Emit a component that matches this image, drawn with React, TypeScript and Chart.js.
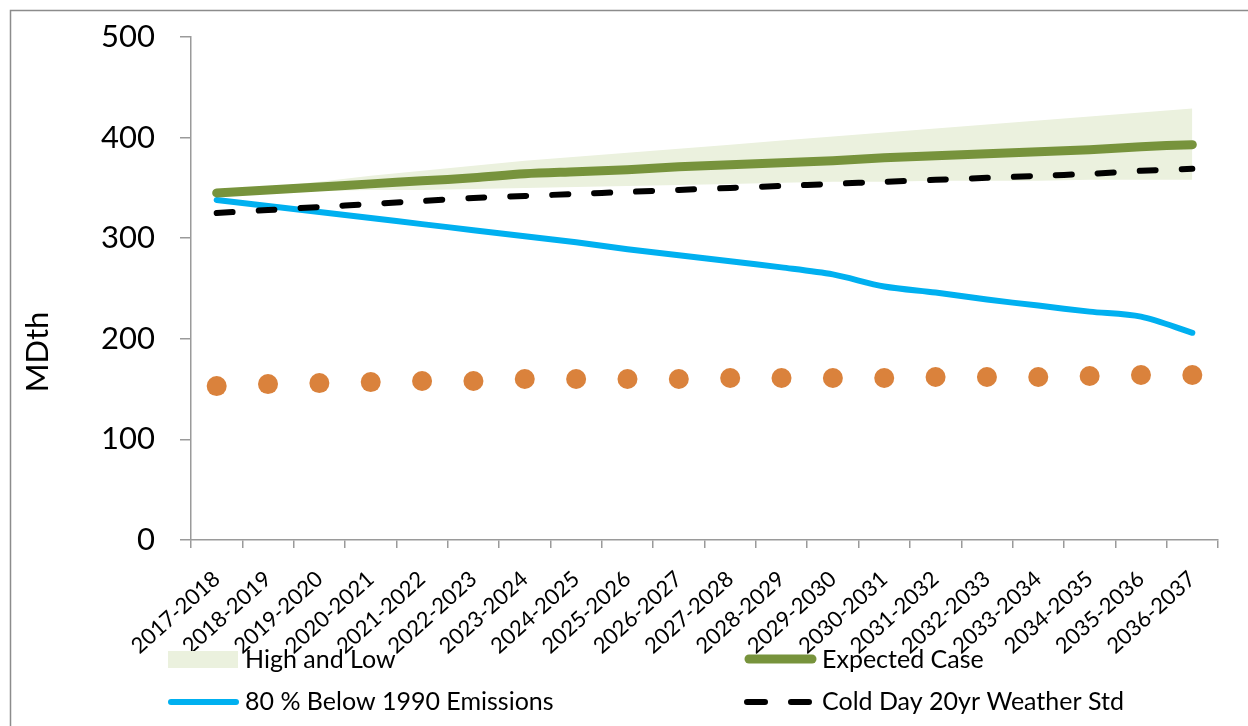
import React, { useEffect, useRef } from "react";
import { Chart, registerables } from "chart.js";

Chart.register(...registerables);

const categories = [
  "2017-2018", "2018-2019", "2019-2020", "2020-2021", "2021-2022",
  "2022-2023", "2023-2024", "2024-2025", "2025-2026", "2026-2027",
  "2027-2028", "2028-2029", "2029-2030", "2030-2031", "2031-2032",
  "2032-2033", "2033-2034", "2034-2035", "2035-2036", "2036-2037",
];

const highBand = [345, 351, 356, 362, 367, 372, 377, 381, 385, 389, 393, 397, 401, 405, 409, 413, 417, 421, 425, 429];
const lowBand = [345, 346, 347, 348, 348, 349, 350, 351, 352, 353, 354, 355, 356, 356, 357, 357, 357, 358, 358, 358];
const expectedCase = [345, 348, 351, 354, 357, 360, 364, 366, 368, 371, 373, 375, 377, 380, 382, 384, 386, 388, 391, 393];
const below1990 = [338, 332, 326, 320, 314, 308, 302, 296, 289, 283, 277, 271, 264, 252, 246, 239, 233, 227, 222, 206];
const coldDay = [325, 328, 331, 334, 337, 340, 342, 344, 346, 348, 350, 352, 354, 356, 358, 360, 362, 364, 367, 369];
const dotSeries = [153, 155, 156, 157, 158, 158, 160, 160, 160, 160, 161, 161, 161, 161, 162, 162, 162, 163, 164, 164];

const yTicks = [0, 100, 200, 300, 400, 500];
const yTitle = "MDth";

const labelHighLow = "High and Low";
const labelExpected = "Expected Case";
const labelBelow = "80 % Below 1990 Emissions";
const labelCold = "Cold Day 20yr Weather Std";

const GREEN = "#77933C";
const BAND = "#EBF1DE";
const BLUE = "#00B0F0";
const ORANGE = "#DA823C";
const AXIS = "#9a9a9a";
const FONT = "Lato, 'Open Sans', sans-serif";

const decorPlugin = {
  id: "decor",
  afterDraw(chart: any) {
    const ctx = chart.ctx as CanvasRenderingContext2D;
    ctx.save();
    // outer border
    ctx.strokeStyle = "#8c8c8c";
    ctx.lineWidth = 1.5;
    ctx.strokeRect(10.5, 10.5, 1400, 900);

    // y-axis title
    ctx.save();
    ctx.translate(38, 352);
    ctx.rotate(-Math.PI / 2);
    ctx.fillStyle = "#000";
    ctx.font = `31px ${FONT}`;
    ctx.textAlign = "center";
    ctx.textBaseline = "middle";
    ctx.fillText(yTitle, 0, 0);
    ctx.restore();

    // legend
    ctx.font = `25px ${FONT}`;
    ctx.fillStyle = "#000";
    ctx.textAlign = "left";
    ctx.textBaseline = "middle";

    // High and Low
    ctx.fillStyle = BAND;
    ctx.fillRect(168, 651, 70, 17);
    ctx.fillStyle = "#000";
    ctx.fillText(labelHighLow, 245, 660);

    // Expected case
    ctx.strokeStyle = GREEN;
    ctx.lineWidth = 9;
    ctx.lineCap = "round";
    ctx.beginPath();
    ctx.moveTo(749, 659);
    ctx.lineTo(812, 659);
    ctx.stroke();
    ctx.fillText(labelExpected, 822, 660);

    // 80 % below
    ctx.strokeStyle = BLUE;
    ctx.lineWidth = 6;
    ctx.beginPath();
    ctx.moveTo(171, 702);
    ctx.lineTo(236, 702);
    ctx.stroke();
    ctx.fillText(labelBelow, 245, 702);

    // Cold day
    ctx.strokeStyle = "#000";
    ctx.lineWidth = 6;
    ctx.setLineDash([18, 26]);
    ctx.beginPath();
    ctx.moveTo(747, 702);
    ctx.lineTo(809, 702);
    ctx.stroke();
    ctx.setLineDash([]);
    ctx.fillText(labelCold, 822, 702);

    ctx.restore();
  },
};

export default function App() {
  const ref = useRef<HTMLCanvasElement | null>(null);

  useEffect(() => {
    if (!ref.current) return;
    const chart = new Chart(ref.current, {
      type: "line",
      data: {
        labels: categories,
        datasets: [
          {
            label: labelCold,
            data: coldDay,
            borderColor: "#000",
            borderWidth: 6,
            borderDash: [16, 26],
            borderCapStyle: "round",
            pointRadius: 0,
            tension: 0.3,
            fill: false,
            order: 0,
          },
          {
            label: labelExpected,
            data: expectedCase,
            borderColor: GREEN,
            borderWidth: 9,
            borderCapStyle: "round",
            pointRadius: 0,
            tension: 0.3,
            fill: false,
            order: 1,
          },
          {
            label: labelBelow,
            data: below1990,
            borderColor: BLUE,
            borderWidth: 6,
            borderCapStyle: "round",
            pointRadius: 0,
            tension: 0.3,
            fill: false,
            order: 2,
          },
          {
            label: "Dots",
            data: dotSeries,
            showLine: false,
            pointRadius: 10,
            pointBackgroundColor: ORANGE,
            pointBorderWidth: 0,
            borderColor: ORANGE,
            backgroundColor: ORANGE,
            order: 3,
          },
          {
            label: "Low",
            data: lowBand,
            borderWidth: 0,
            borderColor: "rgba(0,0,0,0)",
            pointRadius: 0,
            tension: 0,
            fill: false,
            order: 4,
          },
          {
            label: labelHighLow,
            data: highBand,
            borderWidth: 0,
            borderColor: "rgba(0,0,0,0)",
            backgroundColor: BAND,
            pointRadius: 0,
            tension: 0,
            fill: "-1",
            order: 5,
          },
        ],
      },
      options: {
        responsive: false,
        animation: false,
        devicePixelRatio: 1,
        layout: { padding: { top: 37, right: 30, left: 0, bottom: 0 } },
        plugins: {
          legend: { display: false },
          tooltip: { enabled: false },
          title: { display: false },
        },
        scales: {
          x: {
            type: "category",
            offset: true,
            grid: {
              display: true,
              drawOnChartArea: false,
              offset: true,
              tickLength: 8,
              color: AXIS,
              lineWidth: 1.5,
            },
            border: { color: AXIS, width: 1.5 },
            ticks: {
              autoSkip: false,
              maxRotation: 42,
              minRotation: 42,
              color: "#000",
              font: { family: FONT, size: 22 },
              padding: 18,
            },
            afterFit(scale: any) {
              scale.height = 186;
            },
          },
          y: {
            min: 0,
            max: 500,
            afterBuildTicks(scale: any) {
              scale.ticks = yTicks.map((v) => ({ value: v }));
            },
            grid: {
              display: true,
              drawOnChartArea: false,
              tickLength: 11,
              color: AXIS,
              lineWidth: 1.5,
            },
            border: { color: AXIS, width: 1.5 },
            ticks: {
              color: "#000",
              font: { family: FONT, size: 31 },
              padding: 25,
            },
            afterFit(scale: any) {
              scale.width = 191;
              scale.paddingTop = 0;
              scale.paddingBottom = 0;
            },
          },
        },
      },
      plugins: [decorPlugin],
    });
    return () => chart.destroy();
  }, []);

  return (
    <div style={{ position: "fixed", left: 0, top: 0, width: 1248, height: 726, background: "#fff" }}>
      <canvas ref={ref} width={1248} height={726} style={{ display: "block" }} />
    </div>
  );
}
